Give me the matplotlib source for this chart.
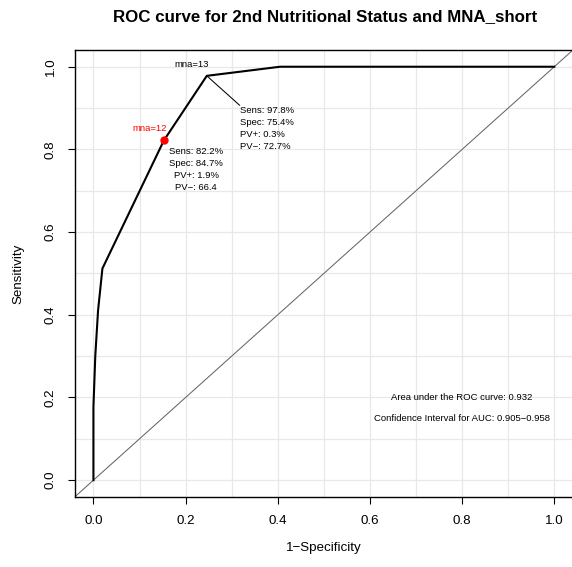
import matplotlib
matplotlib.use('Agg')
import matplotlib.pyplot as plt
import numpy as np

plt.rcParams['font.family'] = ['Liberation Sans', 'DejaVu Sans']

# ROC curve points (1 - specificity, sensitivity)
fpr = [0.0, 0.0, 0.004, 0.010, 0.0195, 0.153, 0.246, 0.405, 1.0]
tpr = [0.0, 0.177, 0.30, 0.41, 0.512, 0.822, 0.978, 1.0, 1.0]

# highlighted cut-offs
cut12 = (0.153, 0.822)
cut13 = (0.246, 0.978)
stats12 = ['Sens: 82.2%', 'Spec: 84.7%', 'PV+: 1.9%', 'PV\u2212: 66.4']
stats13 = ['Sens: 97.8%', 'Spec: 75.4%', 'PV+: 0.3%', 'PV\u2212: 72.7%']
auc_lines = ['Area under the ROC curve: 0.932',
             'Confidence Interval for AUC: 0.905\u22120.958']

ticks = [0.0, 0.2, 0.4, 0.6, 0.8, 1.0]
grid = np.arange(0, 1.01, 0.1)

fig = plt.figure(figsize=(5.72, 5.67), dpi=100)
ax = fig.add_axes([75 / 572, 70.3 / 567, 497.7 / 572, 446.5 / 567])

for g in grid:
    ax.axvline(g, color='#e8e8e8', lw=0.9, zorder=0)
    ax.axhline(g, color='#e8e8e8', lw=0.9, zorder=0)

ax.plot([-0.1, 1.1], [-0.1, 1.1], color='#666666', lw=0.75, zorder=1)
ax.plot(fpr, tpr, color='black', lw=1.5, zorder=2)
ax.plot(*cut12, 'o', color='red', ms=5, zorder=3)

# cut-off 13 annotation
ax.text(0.213, 1.006, 'mna=13', fontsize=6.8, ha='center', va='center')
ax.plot([cut13[0], 0.317], [cut13[1], 0.907], color='black', lw=0.75)
ax.text(0.317, 0.905, '\n'.join(stats13), fontsize=6.8, ha='left', va='top',
        linespacing=1.45)

# cut-off 12 annotation
ax.text(0.123, 0.850, 'mna=12', fontsize=6.8, color='red', ha='center',
        va='center')
ax.text(0.223, 0.806, '\n'.join(stats12), fontsize=6.8, ha='center', va='top',
        multialignment='center', linespacing=1.45)

ax.text(0.799, 0.200, auc_lines[0], fontsize=6.8, ha='center', va='center')
ax.text(0.799, 0.148, auc_lines[1], fontsize=6.8, ha='center', va='center')

ax.set_xlim(-0.04, 1.04)
ax.set_ylim(-0.04, 1.04)
ax.set_xticks(ticks)
ax.set_yticks(ticks)
ax.set_xticklabels([f'{t:.1f}' for t in ticks])
ax.set_yticklabels([f'{t:.1f}' for t in ticks], rotation=90, va='center')
ax.tick_params(direction='out', length=5, width=0.8, labelsize=9.6, pad=8)
for s in ax.spines.values():
    s.set_linewidth(1.0)
# the box's right side falls just outside the canvas
ax.spines['right'].set_visible(False)

ax.set_xlabel('1\u2212Specificity', fontsize=9.6, va='center')
ax.xaxis.set_label_coords(0.5, -0.115)
ax.set_ylabel('Sensitivity', fontsize=9.6, va='center')
ax.yaxis.set_label_coords(-0.1145, 0.5)

fig.text(325 / 572, 1 - 17 / 567,
         'ROC curve for 2nd Nutritional Status and MNA_short',
         fontsize=12.2, fontweight='bold', ha='center', va='center')

fig.savefig('out.png', dpi=100)
